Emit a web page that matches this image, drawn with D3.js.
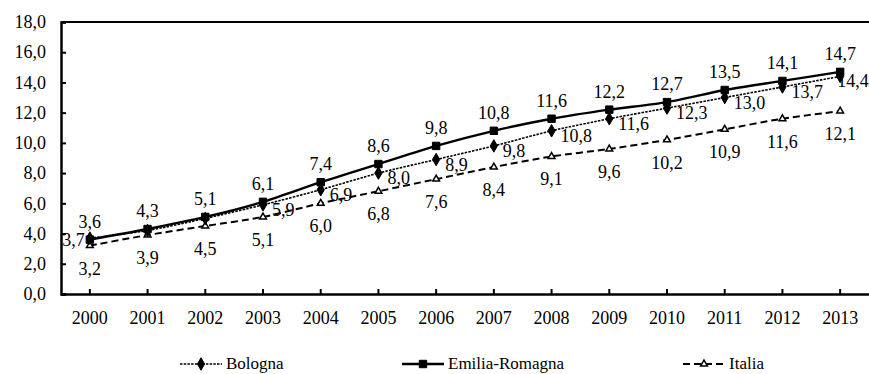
<!DOCTYPE html>
<html>
<head>
<meta charset="utf-8">
<script src="https://cdn.jsdelivr.net/npm/d3@7"></script>
<style>
  body { margin: 0; background: #fff; }
  svg text { font-family: "Liberation Serif", "Times New Roman", serif !important; fill: #000; }
</style>
</head>
<body>
<div id="chart"></div>
<script>
// data
const years = ["2000", "2001", "2002", "2003", "2004", "2005", "2006", "2007", "2008", "2009", "2010", "2011", "2012", "2013"];
const bologna = [3.7, 4.2, 5.0, 5.9, 6.9, 8.0, 8.9, 9.8, 10.8, 11.6, 12.3, 13.0, 13.7, 14.4];
const emiliaRomagna = [3.6, 4.3, 5.1, 6.1, 7.4, 8.6, 9.8, 10.8, 11.6, 12.2, 12.7, 13.5, 14.1, 14.7];
const italia = [3.2, 3.9, 4.5, 5.1, 6.0, 6.8, 7.6, 8.4, 9.1, 9.6, 10.2, 10.9, 11.6, 12.1];
// Bologna labels for 2001 and 2002 are not shown in the original
const bolognaLabelShown = [true, false, false, true, true, true, true, true, true, true, true, true, true, true];
const yTicks = [0, 2, 4, 6, 8, 10, 12, 14, 16, 18];

const width = 869, height = 374;
const margin = { top: 22, right: 0, bottom: 80, left: 61 };
const FONT = "'Liberation Serif', 'Times New Roman', serif";

const svg = d3.select("#chart").append("svg")
    .attr("width", width)
    .attr("height", height);

const x = d3.scaleBand()
    .domain(years)
    .range([margin.left, width - margin.right]);

const y = d3.scaleLinear()
    .domain([0, 18])
    .range([height - margin.bottom, margin.top]);

const fmt = v => d3.format(".1f")(v).replace(".", ",");
const cx = d => x(d) + x.bandwidth() / 2;

// frame: top border
svg.append("line")
    .attr("x1", margin.left).attr("x2", width)
    .attr("y1", y(18)).attr("y2", y(18))
    .attr("stroke", "#000").attr("stroke-width", 2);

// y axis
const yAxis = svg.append("g")
    .attr("transform", `translate(${margin.left},0)`)
    .attr("font-family", FONT)
    .call(d3.axisLeft(y).tickValues(yTicks).tickFormat(fmt).tickSize(-5).tickPadding(15));
yAxis.select(".domain").attr("stroke-width", 2.5);
yAxis.selectAll(".tick line").attr("stroke-width", 2);
yAxis.selectAll(".tick text").style("font-size", "18px").style("font-family", FONT);

// x axis
const xAxis = svg.append("g")
    .attr("transform", `translate(0,${y(0)})`)
    .attr("font-family", FONT)
    .call(d3.axisBottom(x).tickSize(-5).tickPadding(0).tickSizeOuter(0));
xAxis.select(".domain").attr("stroke-width", 2.5);
xAxis.selectAll(".tick line").attr("stroke-width", 2);
xAxis.selectAll(".tick text")
    .attr("dy", null)
    .attr("y", 30)
    .style("font-size", "18px").style("font-family", FONT);

const series = [
    { name: "Bologna", values: bologna, dash: "2.5,1.2", width: 1.6, marker: "diamond", fill: "#000",
      label: { dx: 9, dy: 11, anchor: "start" } },
    { name: "Emilia-Romagna", values: emiliaRomagna, dash: null, width: 2.4, marker: "square", fill: "#000",
      label: { dx: 0, dy: -12, anchor: "middle" } },
    { name: "Italia", values: italia, dash: "7,4", width: 2, marker: "triangle", fill: "#fff",
      label: { dx: 0, dy: 29, anchor: "middle" } }
];

const symbolType = {
    diamond: d3.symbolDiamond,
    square: d3.symbolSquare,
    triangle: d3.symbolTriangle
};
const symbolSize = { diamond: 45, square: 55, triangle: 20 };

const line = d3.line()
    .x((d, i) => cx(years[i]))
    .y(d => y(d))
    .curve(d3.curveCardinal.tension(0.2));

// draw Italia first, then Bologna, Emilia-Romagna on top
[series[2], series[0], series[1]].forEach(s => {
    svg.append("path")
        .datum(s.values)
        .attr("d", line)
        .attr("fill", "none")
        .attr("stroke", "#000")
        .attr("stroke-width", s.width)
        .attr("stroke-dasharray", s.dash);

    svg.selectAll(null)
        .data(s.values)
        .enter()
        .append("path")
        .attr("d", d3.symbol().type(symbolType[s.marker]).size(symbolSize[s.marker]))
        .attr("transform", (d, i) => `translate(${cx(years[i])},${y(d)})`)
        .attr("fill", s.fill)
        .attr("stroke", "#000")
        .attr("stroke-width", s.marker === "triangle" ? 1.5 : 1);
});

// data labels
series.forEach(s => {
    const pts = s.values
        .map((v, i) => ({ v, i }))
        .filter(p => s.name !== "Bologna" || bolognaLabelShown[p.i]);

    svg.selectAll(null)
        .data(pts)
        .enter()
        .append("text")
        .attr("x", p => {
            // first Bologna label sits left of the point, last one under it
            if (s.name === "Bologna" && p.i === 0) return cx(years[p.i]) - 5;
            if (s.name === "Bologna" && p.i === years.length - 1) return cx(years[p.i]) - 3;
            return cx(years[p.i]) + s.label.dx;
        })
        .attr("y", p => y(p.v) + (s.name === "Bologna" && p.i === 0 ? 8 : s.label.dy))
        .attr("text-anchor", p => (s.name === "Bologna" && p.i === 0) ? "end" : s.label.anchor)
        .style("font-size", "18px")
        .text(p => fmt(p.v));
});

// legend
const legendItems = [
    { s: series[0], x: 180 },
    { s: series[1], x: 402 },
    { s: series[2], x: 683 }
];
const legendY = 364;
legendItems.forEach(item => {
    const g = svg.append("g").attr("transform", `translate(${item.x},${legendY})`);
    g.append("line")
        .attr("x1", 0).attr("x2", 42)
        .attr("stroke", "#000")
        .attr("stroke-width", item.s.width)
        .attr("stroke-dasharray", item.s.dash);
    g.append("path")
        .attr("d", d3.symbol().type(symbolType[item.s.marker]).size(symbolSize[item.s.marker]))
        .attr("transform", "translate(21,0)")
        .attr("fill", item.s.fill)
        .attr("stroke", "#000")
        .attr("stroke-width", item.s.marker === "triangle" ? 1.5 : 1);
    g.append("text")
        .attr("x", 46)
        .attr("y", 5)
        .style("font-size", "17px")
        .text(item.s.name);
});
</script>
</body>
</html>
